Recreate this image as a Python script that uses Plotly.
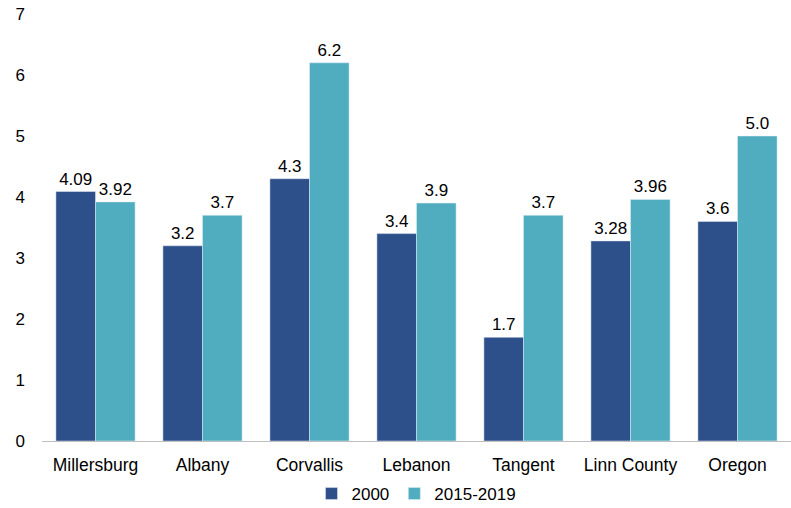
import plotly.graph_objects as go

places = ["Millersburg", "Albany", "Corvallis", "Lebanon", "Tangent", "Linn County", "Oregon"]
values_2000 = [4.09, 3.2, 4.3, 3.4, 1.7, 3.28, 3.6]
labels_2000 = ["4.09", "3.2", "4.3", "3.4", "1.7", "3.28", "3.6"]
values_2015_2019 = [3.92, 3.7, 6.2, 3.9, 3.7, 3.96, 5.0]
labels_2015_2019 = ["3.92", "3.7", "6.2", "3.9", "3.7", "3.96", "5.0"]
y_ticks = [0, 1, 2, 3, 4, 5, 6, 7]

font_family = "Liberation Sans, Arial, sans-serif"

fig = go.Figure()
fig.add_trace(go.Bar(
    name="2000", x=places, y=values_2000, text=labels_2000,
    marker_color="#2D4F8A", textposition="outside", cliponaxis=False,
    textfont=dict(size=17, color="#000000", family=font_family),
))
fig.add_trace(go.Bar(
    name="2015-2019", x=places, y=values_2015_2019, text=labels_2015_2019,
    marker_color="#4FADBF", textposition="outside", cliponaxis=False,
    textfont=dict(size=17, color="#000000", family=font_family),
))

fig.update_layout(
    width=791, height=508,
    margin=dict(l=42, r=0, t=14, b=67, autoexpand=False),
    barmode="group", bargap=0.26, bargroupgap=0,
    plot_bgcolor="white", paper_bgcolor="white",
    font=dict(family=font_family, size=17, color="#000000"),
    showlegend=True,
    legend=dict(orientation="h", x=0.5, xanchor="center",
                y=-0.082, yanchor="top",
                font=dict(size=17), itemwidth=30, traceorder="normal"),
)
fig.update_xaxes(showline=True, linecolor="#BFBFBF", linewidth=1, ticks="",
                 tickfont=dict(size=17.5), showgrid=False, ticklabelstandoff=8)
fig.update_yaxes(range=[0, 7], tickvals=y_ticks, showgrid=False, zeroline=False,
                 showline=False, tickfont=dict(size=17), ticklabelstandoff=16)

fig.write_html("out.html")
